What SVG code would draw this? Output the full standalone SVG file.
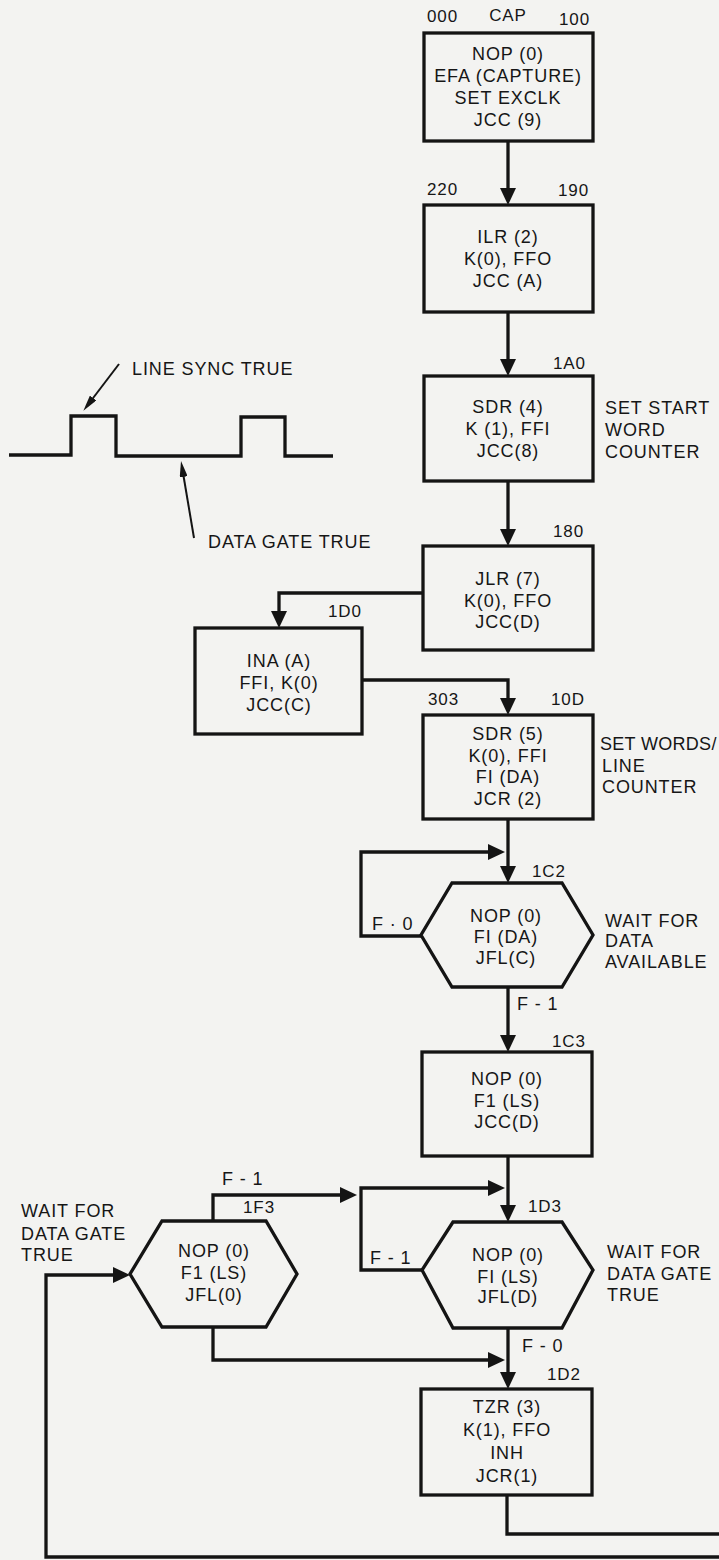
<svg xmlns="http://www.w3.org/2000/svg" width="719" height="1560" viewBox="0 0 719 1560">
<style>
.bg{fill:#f3f3f1}
.nd{fill:none;stroke:#141414;stroke-width:3.3;stroke-linejoin:miter}
.cn{fill:none;stroke:#141414;stroke-width:3.3}
.thin{fill:none;stroke:#141414;stroke-width:2}
text{font-family:"Liberation Sans",Arial,sans-serif;font-size:18px;letter-spacing:0.9px;fill:#161616}
.c{text-anchor:middle}
.a{font-size:17px}
</style>
<defs>
<marker id="ah" markerUnits="userSpaceOnUse" markerWidth="17" markerHeight="16" refX="9" refY="8" orient="auto" viewBox="0 0 17 16">
<path d="M0,0 L17,8 L0,16 z" fill="#141414"/>
</marker>
<marker id="sh" markerUnits="userSpaceOnUse" markerWidth="16" markerHeight="8" refX="10" refY="4" orient="auto" viewBox="0 0 16 8">
<path d="M0,0 L16,4 L0,8 z" fill="#141414"/>
</marker>
</defs>
<rect class="bg" x="0" y="0" width="719" height="1560"/>

<g id="waveform">
<polyline class="cn" stroke-width="3" points="9,455 71,455 71,416 116,416 116,456 241,456 241,417 285,417 285,456 333,456"/>
<line class="thin" x1="119" y1="364" x2="87" y2="406" marker-end="url(#sh)"/>
<line class="thin" x1="194" y1="538" x2="182" y2="467" marker-end="url(#sh)"/>
<text x="132" y="375">LINE SYNC TRUE</text>
<text x="208" y="548">DATA GATE TRUE</text>
</g>

<g id="connectors">
<line class="cn" x1="508" y1="141" x2="508" y2="197" marker-end="url(#ah)"/>
<line class="cn" x1="508" y1="312" x2="508" y2="368" marker-end="url(#ah)"/>
<line class="cn" x1="508" y1="481" x2="508" y2="538" marker-end="url(#ah)"/>
<path class="cn" d="M423,593 H279 V620" marker-end="url(#ah)"/>
<path class="cn" d="M362,680 H508 V707" marker-end="url(#ah)"/>
<line class="cn" x1="508" y1="819" x2="508" y2="875" marker-end="url(#ah)"/>
<path class="cn" d="M421,936 H361 V852 H497" marker-end="url(#ah)"/>
<line class="cn" x1="508" y1="987" x2="508" y2="1044" marker-end="url(#ah)"/>
<line class="cn" x1="508" y1="1156" x2="508" y2="1214" marker-end="url(#ah)"/>
<path class="cn" d="M422,1270 H361 V1188 H497" marker-end="url(#ah)"/>
<path class="cn" d="M213,1221 V1195 H349" marker-end="url(#ah)"/>
<path class="cn" d="M213,1327 V1360 H497" marker-end="url(#ah)"/>
<line class="cn" x1="508" y1="1328" x2="508" y2="1381" marker-end="url(#ah)"/>
<path class="cn" d="M507,1495 V1534 H719"/>
<path class="cn" d="M719,1557 H46 V1275 H122" marker-end="url(#ah)"/>
<text x="372" y="930">F · 0</text>
<text x="517" y="1010">F - 1</text>
<text x="222" y="1185">F - 1</text>
<text x="370" y="1264">F - 1</text>
<text x="522" y="1352">F - 0</text>
</g>

<g id="n100">
<rect class="nd" x="424" y="33" width="169" height="108"/>
<text class="a" x="427" y="22">000</text>
<text class="a c" x="508" y="21">CAP</text>
<text class="a" x="559" y="25">100</text>
<text class="c" x="508" y="60">NOP (0)</text>
<text class="c" x="508" y="82">EFA (CAPTURE)</text>
<text class="c" x="508" y="104">SET EXCLK</text>
<text class="c" x="508" y="126">JCC (9)</text>
</g>

<g id="n190">
<rect class="nd" x="424" y="205" width="169" height="107"/>
<text class="a" x="427" y="195">220</text>
<text class="a" x="558" y="196">190</text>
<text class="c" x="508" y="243">ILR (2)</text>
<text class="c" x="508" y="265">K(0), FFO</text>
<text class="c" x="508" y="287">JCC (A)</text>
</g>

<g id="n1A0">
<rect class="nd" x="424" y="376" width="169" height="105"/>
<text class="a" x="553" y="369">1A0</text>
<text class="c" x="508" y="413">SDR (4)</text>
<text class="c" x="508" y="435">K (1), FFI</text>
<text class="c" x="508" y="457">JCC(8)</text>
<text x="605" y="414">SET START</text>
<text x="605" y="436">WORD</text>
<text x="605" y="458">COUNTER</text>
</g>

<g id="n180">
<rect class="nd" x="423" y="546" width="170" height="104"/>
<text class="a" x="553" y="537">180</text>
<text class="c" x="508" y="585">JLR (7)</text>
<text class="c" x="508" y="607">K(0), FFO</text>
<text class="c" x="508" y="628">JCC(D)</text>
</g>

<g id="n1D0">
<rect class="nd" x="195" y="628" width="167" height="106"/>
<text class="a" x="328" y="617">1D0</text>
<text class="c" x="279" y="667">INA (A)</text>
<text class="c" x="279" y="689">FFI, K(0)</text>
<text class="c" x="279" y="711">JCC(C)</text>
</g>

<g id="n10D">
<rect class="nd" x="423" y="715" width="170" height="104"/>
<text class="a" x="428" y="705">303</text>
<text class="a" x="551" y="705">10D</text>
<text class="c" x="508" y="740">SDR (5)</text>
<text class="c" x="508" y="762">K(0), FFI</text>
<text class="c" x="508" y="783">FI (DA)</text>
<text class="c" x="508" y="805">JCR (2)</text>
<text x="600" y="750" style="letter-spacing:0.3px">SET WORDS/</text>
<text x="602" y="772">LINE</text>
<text x="602" y="793">COUNTER</text>
</g>

<g id="n1C2">
<polygon class="nd" points="452,883 562,883 593,935 562,987 452,987 421,935"/>
<text class="a" x="532" y="877">1C2</text>
<text class="c" x="506" y="922">NOP (0)</text>
<text class="c" x="506" y="943">FI (DA)</text>
<text class="c" x="506" y="964">JFL(C)</text>
<text x="605" y="927">WAIT FOR</text>
<text x="605" y="947">DATA</text>
<text x="605" y="968">AVAILABLE</text>
</g>

<g id="n1C3">
<rect class="nd" x="422" y="1052" width="170" height="104"/>
<text class="a" x="552" y="1047">1C3</text>
<text class="c" x="507" y="1085">NOP (0)</text>
<text class="c" x="507" y="1107">F1 (LS)</text>
<text class="c" x="507" y="1128">JCC(D)</text>
</g>

<g id="n1F3">
<polygon class="nd" points="162,1221 266,1221 297,1274 266,1327 162,1327 130,1274"/>
<text class="a" x="243" y="1213">1F3</text>
<text class="c" x="214" y="1257">NOP (0)</text>
<text class="c" x="214" y="1279">F1 (LS)</text>
<text class="c" x="214" y="1301">JFL(0)</text>
<text x="21" y="1217">WAIT FOR</text>
<text x="21" y="1240">DATA GATE</text>
<text x="21" y="1261">TRUE</text>
</g>

<g id="n1D3">
<polygon class="nd" points="453,1222 562,1222 593,1270 562,1328 453,1328 422,1270"/>
<text class="a" x="528" y="1212">1D3</text>
<text class="c" x="508" y="1261">NOP (0)</text>
<text class="c" x="508" y="1283">FI (LS)</text>
<text class="c" x="508" y="1303">JFL(D)</text>
<text x="607" y="1258">WAIT FOR</text>
<text x="607" y="1280">DATA GATE</text>
<text x="607" y="1301">TRUE</text>
</g>

<g id="n1D2">
<rect class="nd" x="421" y="1389" width="171" height="106"/>
<text class="a" x="547" y="1380">1D2</text>
<text class="c" x="507" y="1413">TZR (3)</text>
<text class="c" x="507" y="1436">K(1), FFO</text>
<text class="c" x="507" y="1459">INH</text>
<text class="c" x="507" y="1482">JCR(1)</text>
</g>
</svg>
